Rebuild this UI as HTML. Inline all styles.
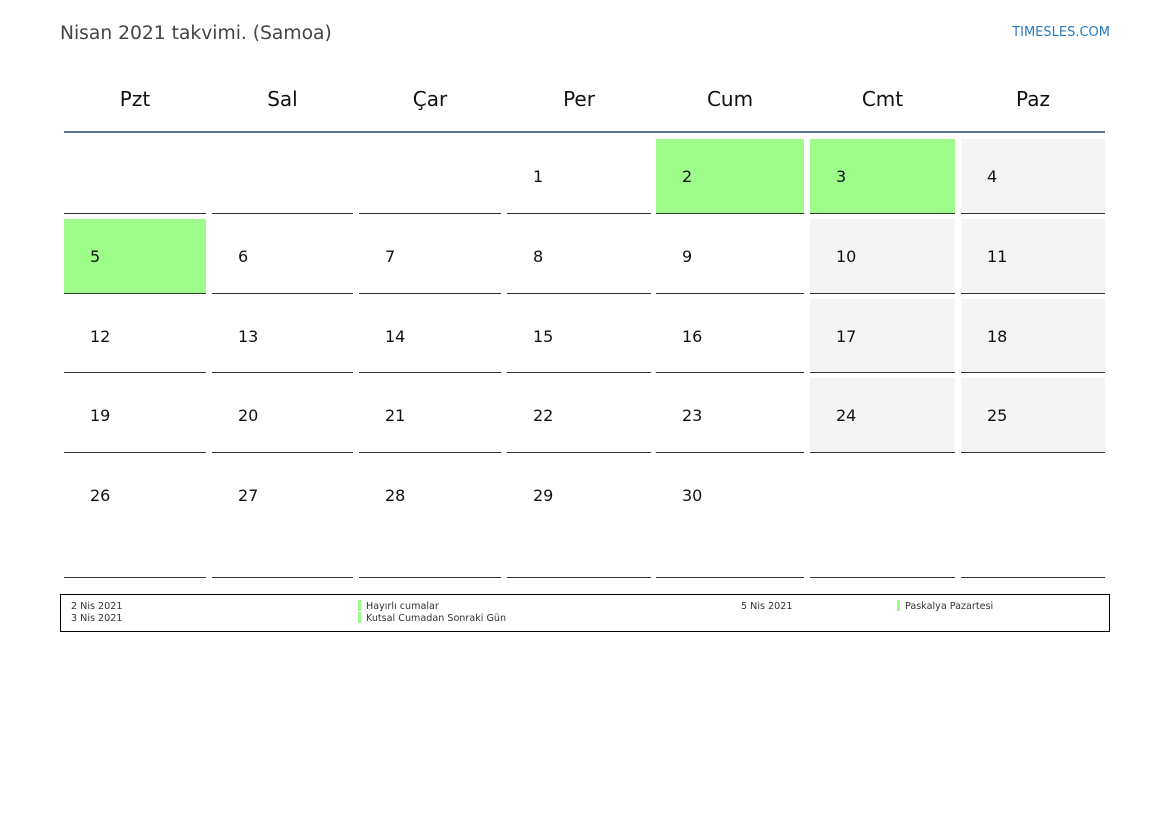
<!DOCTYPE html>
<html><head><meta charset="utf-8"><style>
body{margin:0;width:1169px;height:827px;background:#fff;font-family:"DejaVu Sans","Liberation Sans",sans-serif;position:relative;overflow:hidden}
div{position:absolute;box-sizing:border-box}
.h{top:87px;font-size:20px;color:#111;text-align:center;line-height:24px}
.c{border-bottom:1px solid #333}
.n{font-size:16px;color:#111;line-height:20px}
.g{background:#9efc8a}
.w{background:#f4f4f4}
.f{font-size:9.6px;color:#333;line-height:12px}
.b{width:3px;height:11px;background:#9efc8a}
</style></head><body>
<div style="left:60px;top:21px;font-size:18.7px;color:#444;line-height:26px">Nisan 2021 takvimi. (Samoa)</div>
<div style="right:59px;top:24px;font-size:13px;color:#2a7ac0;line-height:18px">TIMESLES.COM</div>
<div class="h" style="left:64px;width:142px">Pzt</div>
<div class="h" style="left:212px;width:141px">Sal</div>
<div class="h" style="left:359px;width:142px">Çar</div>
<div class="h" style="left:507px;width:144px">Per</div>
<div class="h" style="left:656px;width:148px">Cum</div>
<div class="h" style="left:810px;width:145px">Cmt</div>
<div class="h" style="left:961px;width:144px">Paz</div>
<div style="left:64px;top:131px;width:1041px;height:2px;background:#5a7599"></div>
<div id="grid"></div>
<script>
var cols=[[64,206],[212,353],[359,501],[507,651],[656,804],[810,955],[961,1105]];
var tops=[139,219,299,378,458],bots=[214,294,373,453,578];
var h='';
for(var r=0;r<5;r++)for(var c=0;c<7;c++){
 var d=r*7+c-2;
 var cls='c';
 if((r==0&&(c==4||c==5))||(r==1&&c==0))cls+=' g';
 else if(r<4&&(c==5||c==6))cls+=' w';
 h+='<div class="'+cls+'" style="left:'+cols[c][0]+'px;top:'+tops[r]+'px;width:'+(cols[c][1]-cols[c][0])+'px;height:'+(bots[r]-tops[r])+'px">';
 if(d>=1&&d<=30)h+='<div class="n" style="left:26px;top:28px">'+d+'</div>';
 h+='</div>';
}
document.getElementById('grid').outerHTML=h;
</script>
<div style="left:60px;top:594px;width:1050px;height:38px;border:1px solid #000"></div>
<div class="f" style="left:71px;top:601px">2 Nis 2021</div>
<div class="f" style="left:71px;top:613px">3 Nis 2021</div>
<div class="b" style="left:358px;top:600px"></div>
<div class="b" style="left:358px;top:612px"></div>
<div class="f" style="left:366px;top:601px">Hayırlı cumalar</div>
<div class="f" style="left:366px;top:613px">Kutsal Cumadan Sonraki Gün</div>
<div class="f" style="left:741px;top:601px">5 Nis 2021</div>
<div class="b" style="left:897px;top:600px"></div>
<div class="f" style="left:905px;top:601px">Paskalya Pazartesi</div>
</body></html>
